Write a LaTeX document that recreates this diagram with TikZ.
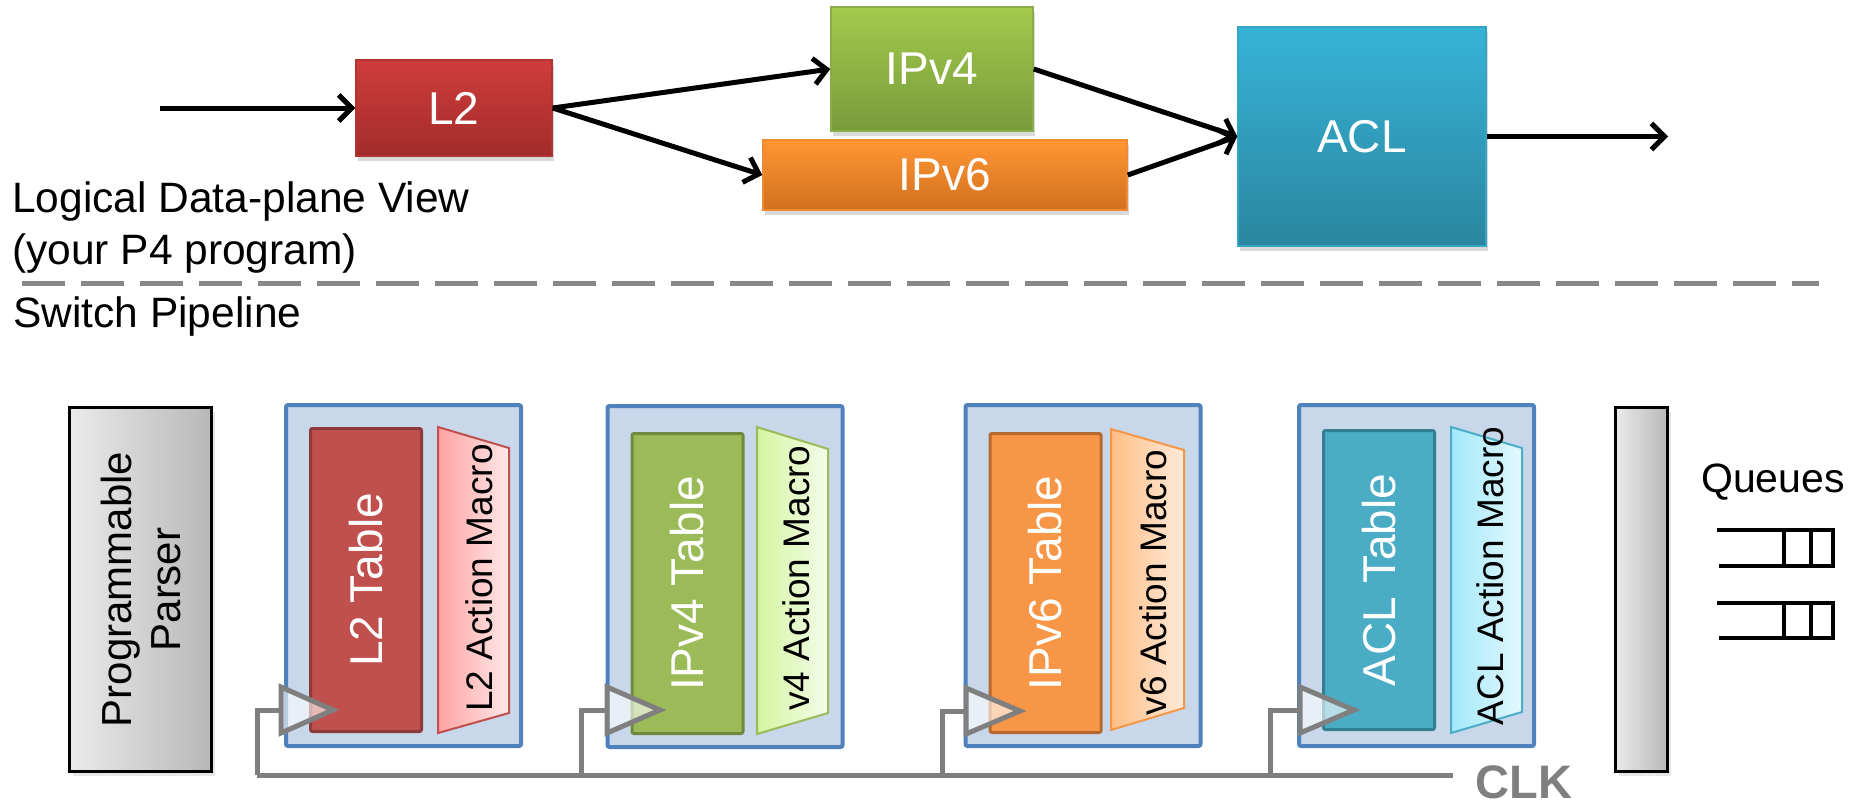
\documentclass[tikz,border=0pt]{standalone}
\usepackage{fontspec}
\setmainfont{Liberation Sans}
\usetikzlibrary{arrows.meta,shadows}

\definecolor{stagefill}{HTML}{C9D7EA}
\definecolor{stageblue}{HTML}{4F81BD}
\definecolor{clkgray}{HTML}{7F7F7F}
\definecolor{sepgray}{HTML}{888888}
% logical view colours
\definecolor{lredtop}{HTML}{CF3D3B}
\definecolor{lredbot}{HTML}{A22C2A}
\definecolor{lredline}{HTML}{B23432}
\definecolor{lgreentop}{HTML}{A2CB4C}
\definecolor{lgreenbot}{HTML}{789B3B}
\definecolor{lgreenline}{HTML}{8AAE45}
\definecolor{lorangetop}{HTML}{FF9633}
\definecolor{lorangebot}{HTML}{D2701F}
\definecolor{lorangeline}{HTML}{F08A33}
\definecolor{lbluetop}{HTML}{37B3D7}
\definecolor{lbluebot}{HTML}{2A869F}
\definecolor{lblueline}{HTML}{35A5C5}
% pipeline colours
\definecolor{tred}{HTML}{C0504D}
\definecolor{tredline}{HTML}{8C3B38}
\definecolor{tgreen}{HTML}{9BBB59}
\definecolor{tgreenline}{HTML}{71893F}
\definecolor{torange}{HTML}{F79646}
\definecolor{torangeline}{HTML}{B5692F}
\definecolor{tblue}{HTML}{4BACC6}
\definecolor{tblueline}{HTML}{327F92}
\definecolor{mredl}{HTML}{FFA3A3}
\definecolor{mredr}{HTML}{FFE8E8}
\definecolor{mgreenl}{HTML}{D4F5A0}
\definecolor{mgreenr}{HTML}{F3FCE9}
\definecolor{morangel}{HTML}{FFBE85}
\definecolor{morange r}{HTML}{FFEAD9}
\definecolor{mbluel}{HTML}{A3E8FA}
\definecolor{mbluer}{HTML}{E3F8FE}

\tikzset{
  flow/.style={line width=5pt, -{Straight Barb[length=13pt,width=26pt]}},
  viewbox/.style={rectangle, inner sep=0, line width=1.5pt, text=white,
    font=\fontsize{46}{55}\selectfont,
    drop shadow={shadow xshift=2pt, shadow yshift=-5pt, opacity=.3}},
  stagebox/.style={rectangle, inner sep=0, rounded corners=2pt, fill=stagefill,
    draw=stageblue, line width=4pt, minimum width=235pt, minimum height=341pt},
  tablebox/.style={rectangle, inner sep=0, rounded corners=2pt, rotate=90, line width=3pt,
    text=white, font=\fontsize{46}{55}\selectfont, minimum height=111pt},
  macrotxt/.style={rotate=90, inner sep=0, font=\fontsize{37}{44}\selectfont},
  barbox/.style={rectangle, inner sep=0, draw=black, line width=2.5pt,
    left color=black!8, right color=black!28,
    drop shadow={shadow xshift=3pt, shadow yshift=-4pt, opacity=.2}},
  clkwire/.style={draw=clkgray, line width=5pt},
  clktri/.style={draw=clkgray, line width=5pt, fill=white, fill opacity=.6, line join=miter},
  queue/.style={draw=black, line width=4pt}
}

\begin{document}
\begin{tikzpicture}[x=1pt, y=-1pt]
      \useasboundingbox (0,0) rectangle (1859,806);

      % logical view
      \node[viewbox, top color=lredtop, bottom color=lredbot, draw=lredline,
        minimum width=196pt, minimum height=96pt] (l2) at (454,108) {L2};
      \node[viewbox, top color=lgreentop, bottom color=lgreenbot, draw=lgreenline,
        minimum width=202pt, minimum height=124pt] (ipv4) at (932,69) {IPv4};
      \node[viewbox, top color=lorangetop, bottom color=lorangebot, draw=lorangeline,
        minimum width=364pt, minimum height=70pt] (ipv6) at (945,175) {IPv6};
      \node[viewbox, top color=lbluetop, bottom color=lbluebot, draw=lblueline,
        minimum width=248pt, minimum height=219pt] (acl) at (1362,136.5) {ACL};

      \coordinate (in) at (160,108);
      \coordinate (out) at (1668,136.5);
      \draw[flow] (in) -- (l2.west);
      \draw[flow] (l2.east) -- (ipv4.west);
      \draw[flow] (l2.east) -- (ipv6.west);
      \draw[flow] (ipv4.east) -- (acl.west);
      \draw[flow] (ipv6.east) -- (acl.west);
      \draw[flow] (acl.east) -- (out);

      \node[anchor=north west, align=left, inner sep=0, font=\fontsize{42.5}{52}\selectfont] (logical)
        at (12,181) {Logical Data-plane View\\(your P4 program)};
      \draw[sepgray, line width=5pt, dash pattern=on 43pt off 16pt] (22,283) -- (1819,283);
      \node[anchor=base west, inner sep=0, font=\fontsize{42.5}{50}\selectfont] (switch) at (13,327) {Switch Pipeline};


      % switch pipeline
      \node[barbox, minimum width=142pt, minimum height=364pt] (parser) at (140.5,589.5) {};
      \node[rotate=90, align=center, inner sep=0, font=\fontsize{42}{49}\selectfont] (parserlbl)
        at (parser) {Programmable\\Parser};

      \node[stagebox] (l2stage) at (403.5,575.5) {};
      \node[tablebox, fill=tred, draw=tredline, minimum width=303pt] (l2tab) at (366,580) {L2 Table};
      \filldraw[draw=tred, line width=2pt, left color=mredl, right color=mredr]
        (438,427) -- (509,448) -- (509,713) -- (438,733) -- cycle;
      \node[macrotxt] (l2act) at (479,578) {L2 Action Macro};

      \node[stagebox] (ipv4stage) at (725,576.5) {};
      \node[tablebox, fill=tgreen, draw=tgreenline, minimum width=300pt] (ipv4tab) at (687.5,583.5) {IPv4 Table};
      \filldraw[draw=tgreen, line width=2pt, left color=mgreenl, right color=mgreenr]
        (757,427) -- (828,449) -- (828,713) -- (757,734) -- cycle;
      \node[macrotxt] (ipv4act) at (796,578) {v4 Action Macro};

      \node[stagebox] (ipv6stage) at (1083,575.5) {};
      \node[tablebox, fill=torange, draw=torangeline, minimum width=299pt] (ipv6tab) at (1045.5,583) {IPv6 Table};
      \filldraw[draw=torange, line width=2pt, left color=morangel, right color=morange r]
        (1111,429) -- (1184,450) -- (1184,708) -- (1111,730) -- cycle;
      \node[macrotxt] (ipv6act) at (1153.5,582.5) {v6 Action Macro};

      \node[stagebox] (aclstage) at (1416.5,575.5) {};
      \node[tablebox, fill=tblue, draw=tblueline, minimum width=299pt] (acltab) at (1379,580) {ACL Table};
      \filldraw[draw=tblue, line width=2pt, left color=mbluel, right color=mbluer]
        (1451,427) -- (1522,448) -- (1522,712) -- (1451,733) -- cycle;
      \node[macrotxt] (aclact) at (1490,576) {ACL Action Macro};

      \node[barbox, minimum width=52pt, minimum height=364pt] (outbar) at (1641.5,589.5) {};

      % clock
      \node[inner xsep=23pt, inner ysep=0, text=clkgray, font=\bfseries\fontsize{47}{56}\selectfont] (clk) at (1524,782) {CLK};
      \coordinate (c1) at (257,775);
      \coordinate (c2) at (581,775);
      \coordinate (c3) at (942,775);
      \coordinate (c4) at (1270,775);
      \coordinate (t1) at (281,710);
      \coordinate (t2) at (607,710);
      \coordinate (t3) at (966,711);
      \coordinate (t4) at (1300,710);
      \draw[clkwire] (c1) -- (c1 -| clk.west);
      \draw[clkwire] (c1) |- (t1);
      \draw[clkwire] (c2) |- (t2);
      \draw[clkwire] (c3) |- (t3);
      \draw[clkwire] (c4) |- (t4);
      \filldraw[clktri] (t1) ++(0,-23) -- ++(52,23) -- ++(-52,23) -- cycle;
      \filldraw[clktri] (t2) ++(0,-23) -- ++(53,23) -- ++(-53,23) -- cycle;
      \filldraw[clktri] (t3) ++(0,-23) -- ++(54,23) -- ++(-54,23) -- cycle;
      \filldraw[clktri] (t4) ++(0,-23) -- ++(54,23) -- ++(-54,23) -- cycle;

      % queues
      \node[inner sep=0, font=\fontsize{41}{49}\selectfont] (queues) at (1773,482) {Queues};
      \draw[queue] (1717,530) -- (1833,530) -- (1833,566) -- (1719,566);
      \draw[queue] (1784,530) -- (1784,566) (1811,530) -- (1811,566);
      \draw[queue] (1717,603) -- (1833,603) -- (1833,638) -- (1719,638);
      \draw[queue] (1784,603) -- (1784,638) (1811,603) -- (1811,638);
    \end{tikzpicture}
\end{document}
